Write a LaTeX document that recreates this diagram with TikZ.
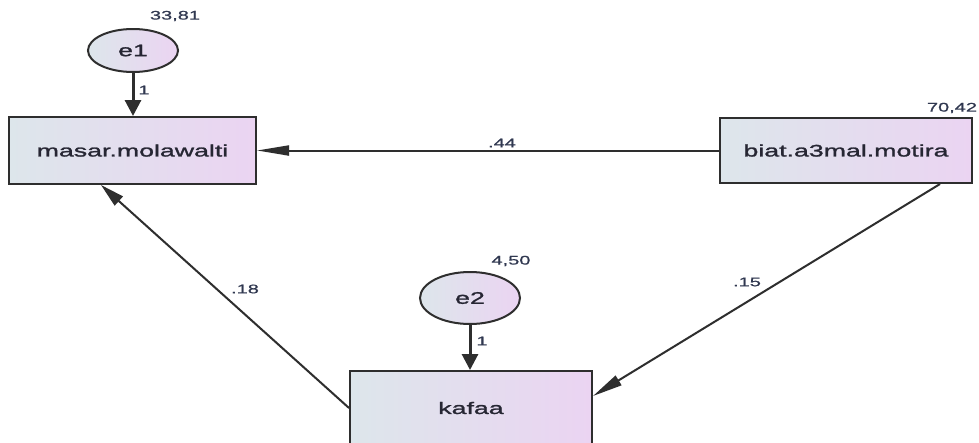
\documentclass[tikz,border=0pt]{standalone}
\usepackage{fontspec}
\setmainfont{Liberation Sans}
\newfontfamily\labfont[FakeStretch=1.6,FakeBold=1.5]{Liberation Sans}
\newfontfamily\numfont[FakeStretch=1.6,FakeBold=0.8]{Liberation Sans}
\usetikzlibrary{arrows.meta,calc,shapes.geometric}
\definecolor{shadeL}{HTML}{DDE6EB}
\definecolor{shadeR}{HTML}{EBD4F2}
\definecolor{edgec}{HTML}{2E2E2E}
\definecolor{txtc}{HTML}{262633}
\definecolor{numc}{HTML}{303850}
\begin{document}
\begin{tikzpicture}[x=1pt,y=-1pt,
  varbox/.style={draw=edgec,line width=2pt,left color=shadeL,right color=shadeR,
    inner sep=0pt,text=txtc,font=\labfont\fontsize{16.7}{18}\selectfont},
  errc/.style={shape=ellipse,draw=edgec,line width=2pt,left color=shadeL,right color=shadeR,
    inner sep=0pt,text=txtc,font=\labfont\fontsize{16.7}{18}\selectfont},
  numlab/.style={inner sep=0pt,text=numc,font=\numfont\fontsize{12.5}{13}\selectfont},
  conn/.style={draw=edgec,line width=2pt},
]
\useasboundingbox (0,0) rectangle (979,442);
\fill[white] (0,0) rectangle (979,442);

% variables
\node[varbox,minimum width=247pt,minimum height=67pt] (masar) at (132.5,150.5) {masar.molawalti};
\node[varbox,minimum width=252pt,minimum height=65pt] (biat) at (846,150.5) {biat.a3mal.motira};
\node[varbox,minimum width=242pt,minimum height=74pt] (kafaa) at (471,408) {kafaa};
\node[errc,minimum width=90pt,minimum height=43pt] (e1) at (133,50.5) {e1};
\node[errc,minimum width=100pt,minimum height=52pt] (e2) at (470,298) {e2};

% connectors
\draw[conn,line width=3pt,-{Triangle[length=16pt,width=16pt]}] (e1.south) -- (e1.south |- masar.north);
\draw[conn,line width=3pt,-{Triangle[length=16pt,width=16pt]}] (e2.south) -- (e2.south |- kafaa.north);
\draw[conn,-{Triangle[length=32pt,width=10pt]}] (biat.west) -- (masar.east);
\draw[conn,-{Triangle[length=24pt,width=12pt]}] (kafaa.west) -- ([xshift=-31.5pt]masar.south);
\draw[conn,-{Triangle[length=30pt,width=11pt]}] ([xshift=94pt]biat.south) -- ([yshift=12pt]kafaa.east);

% labels
\node[numlab] (v1) at (175,16) {33,81};
\node[numlab] (v2) at (952,108) {70,42};
\node[numlab] (v3) at (511,261) {4,50};
\node[numlab] (w1) at (144,90) {1};
\node[numlab] (w2) at (482,341) {1};
\node[numlab] (p1) at (502,143) {.44};
\node[numlab] (p2) at (245,289) {.18};
\node[numlab] (p3) at (747,282) {.15};
\end{tikzpicture}
\end{document}
